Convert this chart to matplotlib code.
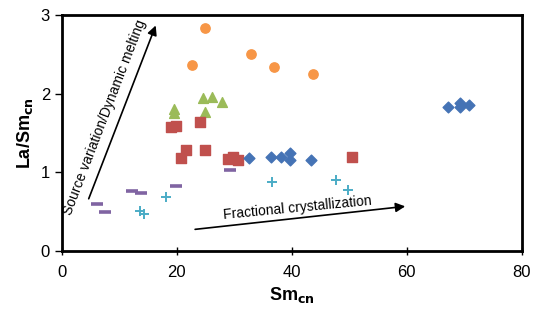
import matplotlib.pyplot as plt

plt.rcParams["font.family"] = ["Liberation Sans", "DejaVu Sans"]

# data
orange_x = [24.9, 22.7, 32.9, 36.9, 43.7]
orange_y = [2.83, 2.36, 2.50, 2.34, 2.25]

green_x = [19.5, 19.5, 24.5, 26.2, 27.8, 24.9]
green_y = [1.80, 1.76, 1.95, 1.96, 1.90, 1.77]

red_x = [19.0, 19.9, 24.0, 20.8, 21.6, 24.9, 28.9, 29.8, 30.7, 50.4]
red_y = [1.57, 1.59, 1.64, 1.18, 1.28, 1.28, 1.17, 1.19, 1.16, 1.20]

blue_x = [32.6, 36.3, 38.2, 39.7, 39.7, 43.4, 67.2, 69.2, 69.3, 70.8]
blue_y = [1.18, 1.19, 1.19, 1.25, 1.16, 1.15, 1.83, 1.88, 1.83, 1.86]

purple_x = [6.1, 7.5, 12.2, 13.8, 19.9, 29.2]
purple_y = [0.60, 0.49, 0.76, 0.73, 0.82, 1.03]

cyan_x = [13.6, 14.3, 18.1, 36.5, 47.7, 49.7]
cyan_y = [0.51, 0.47, 0.69, 0.87, 0.90, 0.77]

fig = plt.figure(figsize=(5.33, 3.2), dpi=100)
ax = fig.add_axes([0.116, 0.216, 0.863, 0.737])

ax.scatter(orange_x, orange_y, marker="o", s=45, color="#F79646", zorder=3)
ax.scatter(green_x, green_y, marker="^", s=50, color="#9BBB59", zorder=3)
ax.scatter(red_x, red_y, marker="s", s=45, color="#C0504D", zorder=3)
ax.scatter(blue_x, blue_y, marker="D", s=30, color="#4573B5", zorder=3)
ax.scatter(purple_x, purple_y, marker="_", s=85, linewidths=2.6, color="#8064A2", zorder=3)
ax.scatter(cyan_x, cyan_y, marker="+", s=55, linewidths=1.4, color="#4BACC6", zorder=3)

# trend arrows
ax.annotate("", xy=(16.5, 2.90), xytext=(4.5, 0.63),
            arrowprops=dict(arrowstyle="-|>", color="black", lw=1.2, mutation_scale=14))
ax.text(7.5, 1.70, "Source variation/Dynamic melting", rotation=69, fontsize=10,
        ha="center", va="center", rotation_mode="anchor")
ax.annotate("", xy=(60.2, 0.57), xytext=(22.7, 0.27),
            arrowprops=dict(arrowstyle="-|>", color="black", lw=1.2, mutation_scale=14))
ax.text(40.9, 0.55, "Fractional crystallization", rotation=5.5, fontsize=10,
        ha="center", va="center", rotation_mode="anchor")

ax.set_xlim(0, 80)
ax.set_ylim(0, 3)
ax.set_xticks([0, 20, 40, 60, 80])
ax.set_yticks([0, 1, 2, 3])
for s in ax.spines.values():
    s.set_linewidth(2)
ax.tick_params(axis="x", direction="inout", length=6, width=1, labelsize=12, pad=7)
ax.tick_params(axis="y", direction="out", length=5, width=1, labelsize=12)
ax.set_xlabel("Sm$_{\\mathbf{cn}}$", fontsize=13, fontweight="bold")
ax.set_ylabel("La/Sm$_{\\mathbf{cn}}$", fontsize=13, fontweight="bold")

fig.savefig("out.png", dpi=100)
